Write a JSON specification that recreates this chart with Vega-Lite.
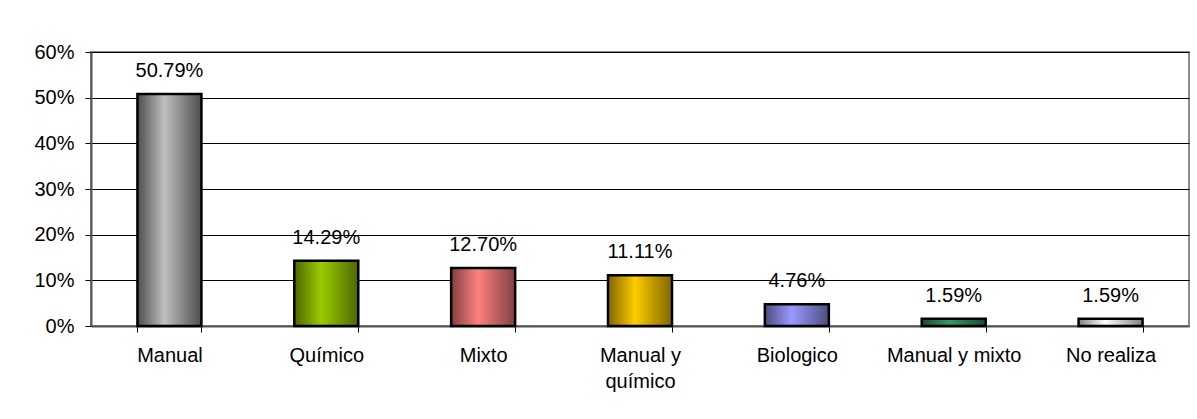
{
  "$schema": "https://vega.github.io/schema/vega-lite/v6.json",
  "width": 1098,
  "height": 274,
  "autosize": {"type": "none"},
  "padding": {"left": 91, "top": 52, "right": 8, "bottom": 93},
  "background": "white",
  "config": {
    "font": "Liberation Sans",
    "view": {"stroke": "#8c8c8c", "strokeWidth": 2},
    "axis": {"labelFont": "Liberation Sans", "labelFontSize": 20, "labelColor": "#000000"}
  },
  "data": {
    "values": [
      {"cat": "Manual", "pct": 0.5079},
      {"cat": "Químico", "pct": 0.1429},
      {"cat": "Mixto", "pct": 0.1270},
      {"cat": "Manual y químico", "pct": 0.1111},
      {"cat": "Biologico", "pct": 0.0476},
      {"cat": "Manual y mixto", "pct": 0.0159},
      {"cat": "No realiza", "pct": 0.0159}
    ]
  },
  "encoding": {
    "x": {
      "field": "cat", "type": "nominal", "sort": null,
      "scale": {"paddingInner": 0.592, "paddingOuter": 0.296},
      "axis": {
        "title": null, "labelAngle": 0, "tickBand": "extent",
        "tickSize": 6, "tickColor": "#000000", "labelPadding": 13,
        "domainColor": "#555555", "domainWidth": 2,
        "labelLineHeight": 26,
        "labelExpr": "datum.value == 'Manual y químico' ? ['Manual y', 'químico'] : datum.value",
        "grid": false
      }
    },
    "y": {
      "field": "pct", "type": "quantitative",
      "scale": {"domain": [0, 0.6], "nice": false},
      "axis": {
        "title": null, "format": ".0%", "values": [0, 0.1, 0.2, 0.3, 0.4, 0.5, 0.6],
        "tickSize": 6, "tickColor": "#000000", "labelPadding": 11,
        "domainColor": "#555555", "domainWidth": 2,
        "grid": true, "gridColor": "#000000", "gridWidth": 1, "gridOpacity": 1
      }
    }
  },
  "layer": [
    {
      "mark": {"type": "bar", "stroke": "#000000", "strokeWidth": 2.5},
      "encoding": {
        "fill": {
          "condition": [
            {"test": "datum.cat === 'Manual'", "value": {"gradient": "linear", "x1": 0, "x2": 1, "y1": 0, "y2": 0, "stops": [{"offset": 0, "color": "#4d4d4d"}, {"offset": 0.42, "color": "#c0c0c0"}, {"offset": 1, "color": "#4d4d4d"}]}},
            {"test": "datum.cat === 'Químico'", "value": {"gradient": "linear", "x1": 0, "x2": 1, "y1": 0, "y2": 0, "stops": [{"offset": 0, "color": "#4d6600"}, {"offset": 0.42, "color": "#99cc00"}, {"offset": 1, "color": "#4d6600"}]}},
            {"test": "datum.cat === 'Mixto'", "value": {"gradient": "linear", "x1": 0, "x2": 1, "y1": 0, "y2": 0, "stops": [{"offset": 0, "color": "#804040"}, {"offset": 0.42, "color": "#ff8080"}, {"offset": 1, "color": "#804040"}]}},
            {"test": "datum.cat === 'Manual y químico'", "value": {"gradient": "linear", "x1": 0, "x2": 1, "y1": 0, "y2": 0, "stops": [{"offset": 0, "color": "#806600"}, {"offset": 0.42, "color": "#ffcc00"}, {"offset": 1, "color": "#806600"}]}},
            {"test": "datum.cat === 'Biologico'", "value": {"gradient": "linear", "x1": 0, "x2": 1, "y1": 0, "y2": 0, "stops": [{"offset": 0, "color": "#4d4d80"}, {"offset": 0.42, "color": "#9999ff"}, {"offset": 1, "color": "#4d4d80"}]}},
            {"test": "datum.cat === 'Manual y mixto'", "value": {"gradient": "linear", "x1": 0, "x2": 1, "y1": 0, "y2": 0, "stops": [{"offset": 0, "color": "#1a4d33"}, {"offset": 0.42, "color": "#339966"}, {"offset": 1, "color": "#1a4d33"}]}}
          ],
          "value": {"gradient": "linear", "x1": 0, "x2": 1, "y1": 0, "y2": 0, "stops": [{"offset": 0, "color": "#808080"}, {"offset": 0.42, "color": "#ffffff"}, {"offset": 1, "color": "#808080"}]}
        }
      }
    },
    {
      "mark": {"type": "text", "baseline": "alphabetic", "dy": -17, "fontSize": 20, "font": "Liberation Sans", "color": "#000000"},
      "encoding": {
        "text": {"field": "pct", "type": "quantitative", "format": ".2%"}
      }
    }
  ]
}
